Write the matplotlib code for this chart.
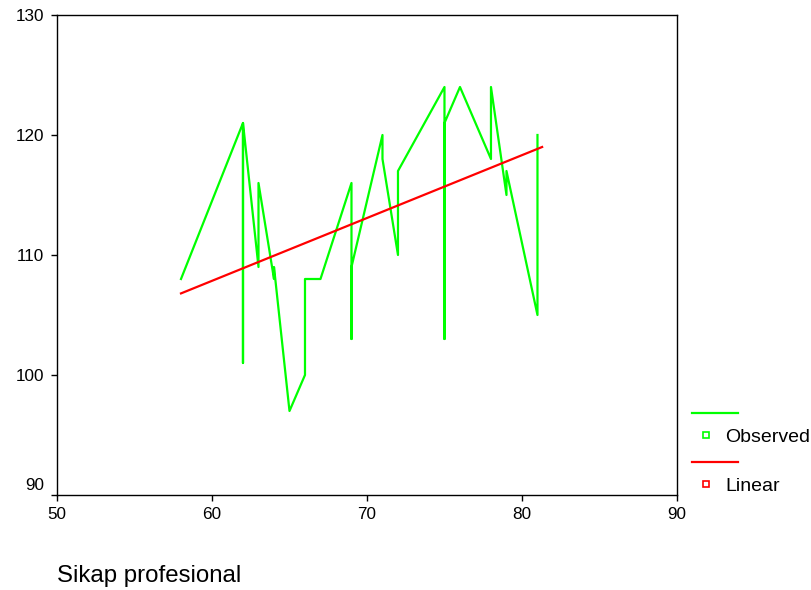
import matplotlib
matplotlib.use('Agg')
import matplotlib.pyplot as plt
import matplotlib.transforms as mtransforms
from matplotlib.lines import Line2D

plt.rcParams['font.family'] = ['Liberation Sans', 'DejaVu Sans']

# observed values, in the order they are connected (sorted by x)
obs_x = [58, 62, 62, 62, 63, 63, 64, 64, 65, 66, 66, 67, 69, 69, 69,
         71, 71, 72, 72, 75, 75, 75, 76, 78, 78, 79, 79, 81, 81]
obs_y = [108, 121, 101, 121, 109, 116, 108, 109, 97, 100, 108, 108, 116, 103, 109,
         120, 118, 110, 117, 124, 103, 121, 124, 118, 124, 115, 117, 105, 120]

# linear fit end points
lin_x = [58, 81.3]
lin_y = [106.8, 119.0]

x_ticks = [50, 60, 70, 80, 90]
y_ticks = [90, 100, 110, 120, 130]

green = '#00ff00'
red = '#ff0000'

fig = plt.figure(figsize=(8.12, 5.90), dpi=100)
ax = fig.add_axes([0.0702, 0.161, 0.7635, 0.8136])

ax.plot(obs_x, obs_y, color=green, lw=1.6)
ax.plot(lin_x, lin_y, color=red, lw=1.6)

ax.set_xlim(50, 90)
ax.set_ylim(90, 130)
ax.set_xticks(x_ticks)
ax.set_yticks(y_ticks)
ax.tick_params(direction='out', length=4.3, width=1, labelsize=12.3)
ax.tick_params(axis='y', pad=5)
ax.tick_params(axis='x', pad=4)
for s in ax.spines.values():
    s.set_linewidth(1)

# lowest y label sits a bit above its tick, as in SPSS output
lab = ax.get_yticklabels()[0]
lab.set_transform(lab.get_transform() + mtransforms.ScaledTranslation(0, 0.11, fig.dpi_scale_trans))

# legend drawn SPSS style: line above, marker + label below
fig.add_artist(Line2D([0.852, 0.909], [0.300, 0.300], color=green, lw=1.6))
fig.add_artist(Line2D([0.8695], [0.2627], marker='s', ms=5, mfc='none', mec=green, mew=1.2))
fig.text(0.893, 0.2590, 'Observed', fontsize=14, va='center')
fig.add_artist(Line2D([0.852, 0.909], [0.217, 0.217], color=red, lw=1.6))
fig.add_artist(Line2D([0.8695], [0.1797], marker='s', ms=5, mfc='none', mec=red, mew=1.2))
fig.text(0.893, 0.1760, 'Linear', fontsize=14, va='center')

fig.text(0.070, 0.0237, 'Sikap profesional', fontsize=17.3, va='center')

fig.savefig('out.png', dpi=100)
